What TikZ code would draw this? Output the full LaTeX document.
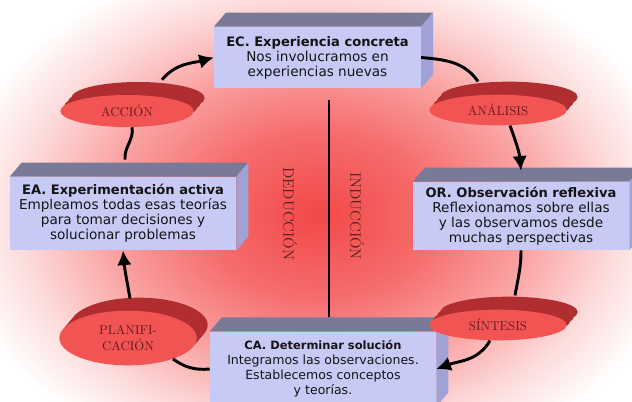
\documentclass[tikz,border=0pt]{standalone}
\usepackage{fontspec}
\setsansfont{DejaVu Sans}
\usepackage{tikz}
\usetikzlibrary{calc,shapes.geometric,arrows.meta}

\definecolor{boxfront}{RGB}{200,202,246}
\definecolor{boxtop}{RGB}{120,122,152}
\definecolor{boxside}{RGB}{160,162,214}
\definecolor{discred}{RGB}{242,84,84}
\definecolor{discdark}{RGB}{176,46,48}
\definecolor{disctext}{RGB}{100,26,28}
\definecolor{axistext}{RGB}{80,32,32}
\definecolor{glowA}{RGB}{242,72,72}
\definecolor{glowB}{RGB}{246,108,108}
\definecolor{glowC}{RGB}{250,160,160}
\definecolor{glowD}{RGB}{253,218,218}
\pgfdeclareradialshading{glow}{\pgfpoint{0bp}{0bp}}{%
  color(0bp)=(glowA); color(7bp)=(glowB); color(13bp)=(glowC);
  color(18.5bp)=(glowD); color(23bp)=(white); color(50bp)=(white)}

\newcommand{\boxtitle}[1]{{\fontsize{9.8}{11.25}\selectfont\bfseries #1}}
\newcommand{\smalltitle}[1]{{\fontsize{8.6}{11.25}\selectfont\bfseries #1}}

\tikzset{
  box/.style={fill=boxfront, inner sep=0pt, align=center, text=black!92,
    font=\sffamily\fontsize{10.2}{11.25}\selectfont},
  disc/.style={ellipse, fill=discred, inner sep=0pt, align=center, text=disctext,
    font=\fontsize{9.6}{12}\selectfont,
    preaction={fill=discdark, transform canvas={shift={(8.25pt,9.75pt)}}},
    preaction={fill=discdark, transform canvas={shift={(5.5pt,6.5pt)}}},
    preaction={fill=discdark, transform canvas={shift={(2.75pt,3.25pt)}}}},
  axislabel/.style={rotate=-90, text=axistext, font=\fontsize{11.3}{13}\selectfont},
  flow/.style={line width=2.2pt, black},
  flowarrow/.style={flow, -{Latex[length=11pt,width=11pt]}}
}

\begin{document}
\begin{tikzpicture}[x=0.75pt,y=-0.75pt]
  \useasboundingbox (0,0) rectangle (632,401);
  \fill[white] (0,0) rectangle (632,401);
  \begin{scope}
    \clip (0,0) rectangle (632,401);
    \shade[shading=glow] (318,215) ellipse (300pt and 218pt);
  \end{scope}

  \node[box, minimum width=155pt, minimum height=46pt] (ec) at (317.5,57.5)
    {\boxtitle{EC. Experiencia concreta}\\ Nos involucramos en\\ experiencias nuevas};
  \node[box, minimum width=169.5pt, minimum height=55pt] (ea) at (123,213.5)
    {\boxtitle{EA. Experimentación activa}\\ Empleamos todas esas teorías\\ para tomar decisiones y\\ solucionar problemas};
  \node[box, minimum width=162pt, minimum height=51pt] (or) at (521,216)
    {\boxtitle{OR. Observación reflexiva}\\ Reflexionamos sobre ellas\\ y las observamos desde\\ muchas perspectivas};
  \node[box, font=\sffamily\fontsize{9.4}{11.25}\selectfont, minimum width=169.5pt, minimum height=56pt] (ca) at (323,369)
    {\smalltitle{CA. Determinar solución}\\ Integramos las observaciones.\\ Establecemos conceptos\\ y teorías.};

  \foreach \b in {ec,ea,or,ca} {
    \fill[boxtop] (\b.north west) -- ([shift={(12,-14)}]\b.north west)
      -- ([shift={(12,-14)}]\b.north east) -- (\b.north east) -- cycle;
    \fill[boxside] (\b.north east) -- ([shift={(12,-14)}]\b.north east)
      -- ([shift={(12,-14)}]\b.south east) -- (\b.south east) -- cycle;
  }

  \node[disc, minimum width=100pt, minimum height=24pt] (accion) at (127,111) {ACCIÓN};
  \node[disc, minimum width=103pt, minimum height=23pt] (analisis) at (498,110) {ANÁLISIS};
  \node[disc, minimum width=103pt, minimum height=41pt] (planif) at (128,338) {PLANIFI-\\CACIÓN};
  \node[disc, minimum width=103pt, minimum height=23pt] (sintesis) at (498,325) {SÍNTESIS};

  \node[axislabel] (deduccion) at (290,214) {DEDUCCIÓN};
  \node[axislabel] (induccion) at (357,216) {INDUCCIÓN};
  \coordinate (axistop) at (329,100);
  \draw[line width=1.9pt] (axistop) -- ([shift={(6,-14)}]ca.north);

  \draw[flowarrow] ([shift={(35,-15)}]accion.north) to[out=50,in=195] (ec.west);
  \draw[flow] (ec.east) to[out=-5,in=125] ([shift={(-20,-13)}]analisis.north);
  \draw[flowarrow] ([shift={(12,0)}]analisis.south) to[out=-70,in=95] ([shift={(0,-11)}]or.north);
  \draw[flow] (or.south) to[out=-90,in=80] ([shift={(17,-14)}]sintesis.north);
  \draw[flowarrow] ([shift={(-8,0)}]sintesis.south) to[out=-120,in=20] (ca.east);
  \draw[flow] (ca.west) to[out=185,in=-35] (planif.-25);
  \draw[flowarrow] ([shift={(2,-12)}]planif.north) to[out=100,in=-85] (ea.south);
  \draw[flow] ([shift={(2,-17)}]ea.north) to[out=95,in=-80] ([shift={(5,0)}]accion.south);
\end{tikzpicture}
\end{document}
